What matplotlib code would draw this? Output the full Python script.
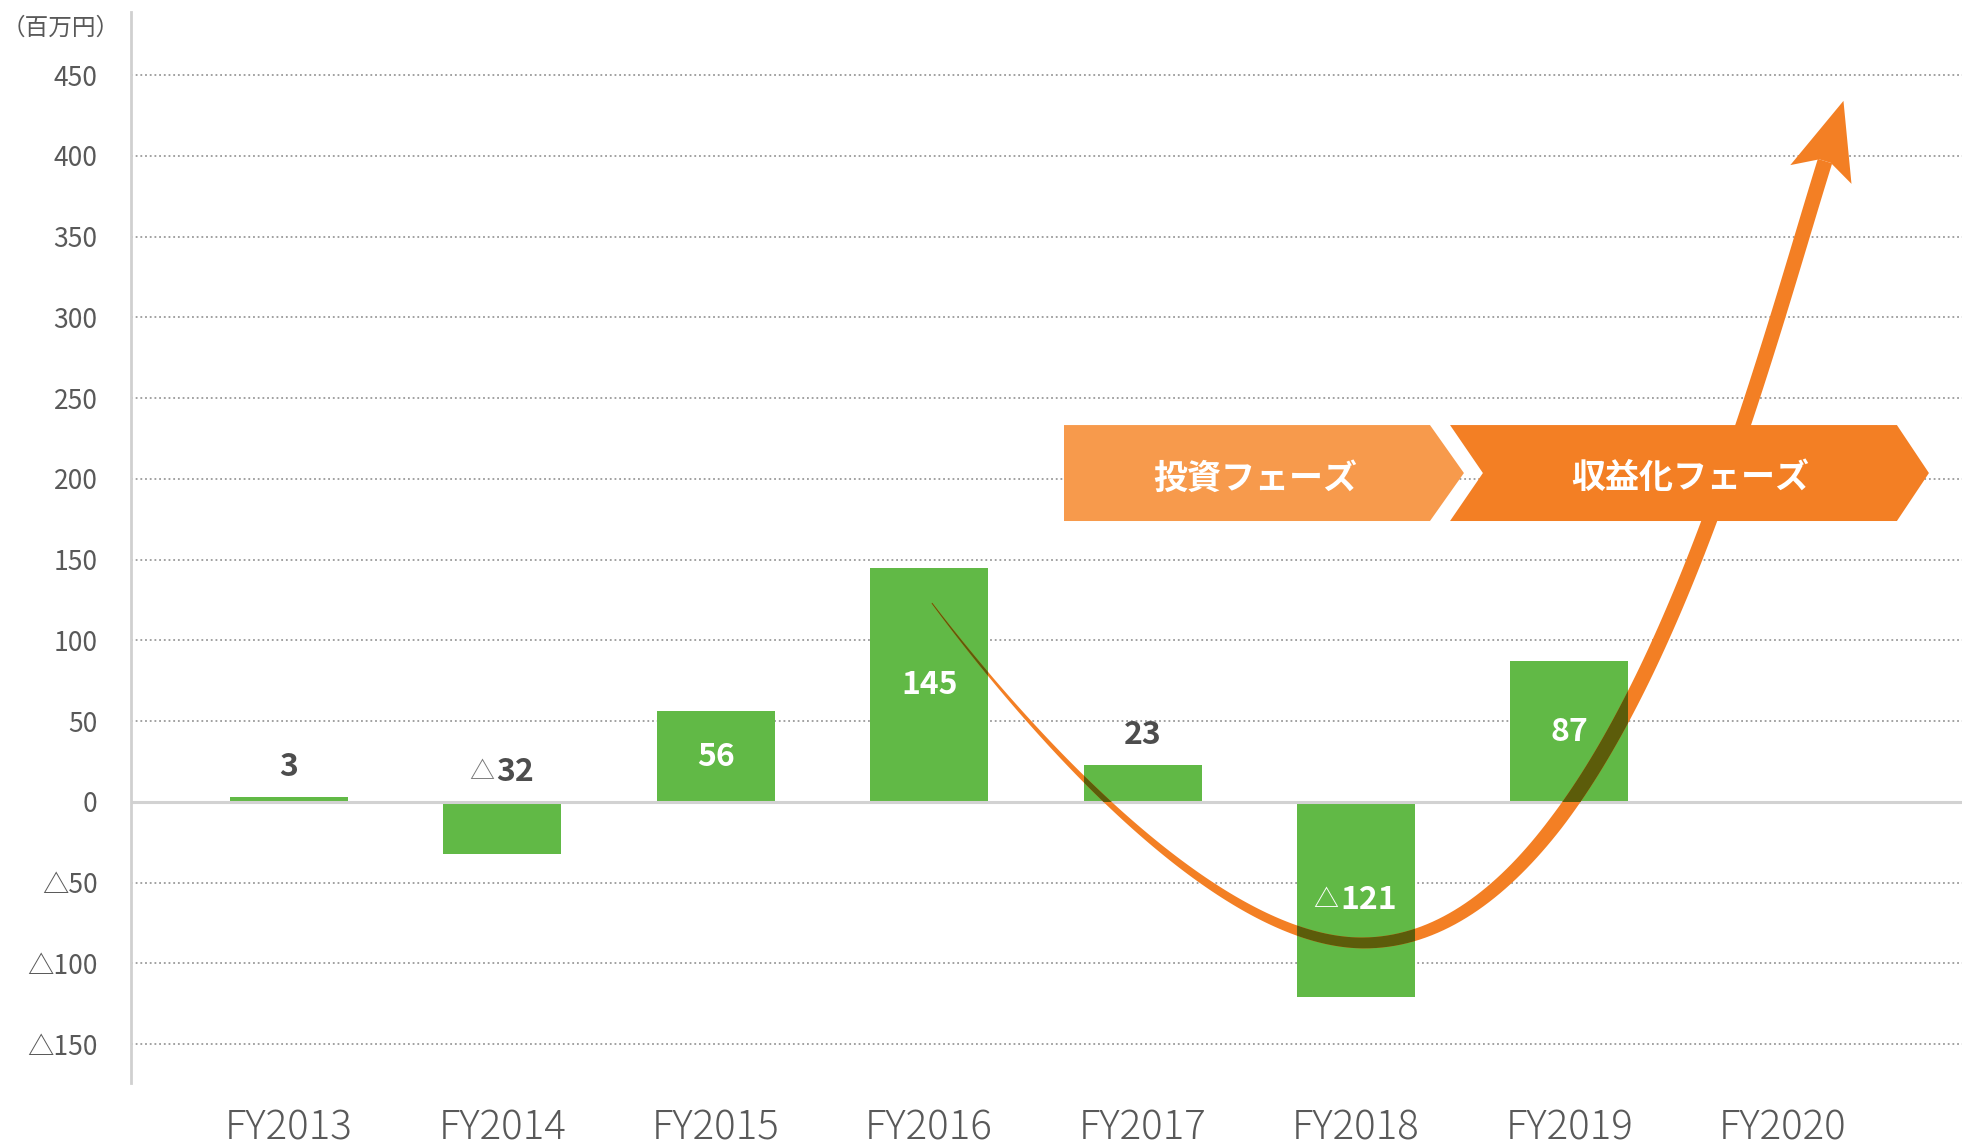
import numpy as np
import matplotlib
matplotlib.use("Agg")
import matplotlib.pyplot as plt
from matplotlib.patches import Polygon
from matplotlib import colors as mcolors

plt.rcParams['font.family'] = ['Noto Sans CJK JP', 'DejaVu Sans']

# データ
years = ['FY2013', 'FY2014', 'FY2015', 'FY2016', 'FY2017', 'FY2018', 'FY2019', 'FY2020']
profit = [3, -32, 56, 145, 23, -121, 87]
y_ticks = [-150, -100, -50, 0, 50, 100, 150, 200, 250, 300, 350, 400, 450]
unit_label = '（百万円）'
phase_labels = ['投資フェーズ', '収益化フェーズ']

# トレンド矢印のベジェ制御点（データ座標）: 下降区間と上昇区間
trend_down = [(3.013, 123.1), (3.435, 48.9), (4.330, -87.3), (5.033, -87.3)]
trend_up = [(5.033, -87.3), (6.204, -87.3), (6.850, 248.9), (7.198, 396.7)]

GREEN = '#61b946'
ORANGE = '#f37f24'
LIGHT_ORANGE = '#f79a4c'
TEXT = '#595959'

W, H = 1962, 1147
fig = plt.figure(figsize=(W / 100, H / 100), dpi=100)
ax = fig.add_axes([131 / W, 64 / H, 1 - 131 / W, (1083 - 12) / H])
ax.set_xlim(-0.74, 7.84)
ax.set_ylim(-174, 489)

# 軸
for s in ['top', 'right', 'bottom']:
    ax.spines[s].set_visible(False)
ax.spines['left'].set_color('#d0d0d0')
ax.spines['left'].set_linewidth(2)
ax.set_yticks(y_ticks)
ax.set_yticklabels([('△' + str(-t)) if t < 0 else str(t) for t in y_ticks])
ax.set_xticks(range(len(years)))
ax.set_xticklabels(years, fontweight='light', va='baseline')
ax.tick_params(axis='y', length=0, pad=24, labelsize=19, labelcolor=TEXT)
ax.tick_params(axis='x', length=0, pad=41, labelsize=29, labelcolor=TEXT)
ax.grid(axis='y', color='#9a9a9a', linestyle=(0, (1, 1.6)), linewidth=1.3)
ax.set_axisbelow(True)
ax.axhline(0, color='#d2d2d2', lw=2.2, zorder=2.5)

fig.text(2 / W, 1 - 28 / H, unit_label, fontsize=17, color=TEXT, ha='left', va='center')

# 棒
bars = ax.bar(range(len(profit)), profit, width=0.553, color=GREEN, zorder=2)

# 値ラベル
for i, v in enumerate(profit):
    inside = abs(v) >= 50
    col = 'white' if inside else '#4d4d4d'
    tri_col = 'white' if inside else '#777777'
    shift = 9 if v < 0 else 0
    if inside:
        t = ax.annotate(str(abs(v)), (i, v / 2), xytext=(shift, 0), textcoords='offset points',
                        ha='center', va='center', fontsize=23, fontweight='bold', color=col, zorder=6)
    else:
        t = ax.annotate(str(abs(v)), (i, max(v, 0)), xytext=(shift, 15), textcoords='offset points',
                        ha='center', va='baseline', fontsize=23, fontweight='bold', color=col, zorder=6)
    if v < 0:
        ax.annotate('△', (0, 0), xycoords=t, xytext=(-1, 2), textcoords='offset points',
                    ha='right', va='bottom', fontsize=18, color=tri_col, zorder=6)


# トレンド曲線（太さが増していく）
def bezier(ctrl, n=120):
    p0, p1, p2, p3 = ctrl
    t = np.linspace(0, 1, n)[:, None]
    return ((1 - t) ** 3 * p0 + 3 * (1 - t) ** 2 * t * p1
            + 3 * (1 - t) * t ** 2 * p2 + t ** 3 * p3)


c1 = bezier(ax.transData.transform(trend_down))
c2 = bezier(ax.transData.transform(trend_up))
c = np.vstack([c1, c2[1:]])
seg = np.hypot(*np.diff(c, axis=0).T)
s = np.concatenate([[0], np.cumsum(seg)])
half = (1 + 14 * np.clip(s / 800, 0, 1)) / 2
tan = np.gradient(c, axis=0)
tan /= np.hypot(tan[:, 0], tan[:, 1])[:, None]
nrm = np.column_stack([-tan[:, 1], tan[:, 0]])
outline = np.vstack([c + nrm * half[:, None], (c - nrm * half[:, None])[::-1]])
inv = ax.transData.inverted()
curve_data = inv.transform(outline)
ax.add_patch(Polygon(curve_data, closed=True, facecolor=ORANGE, edgecolor='none', zorder=3))

# 棒と重なる部分は乗算風に暗く
dark = np.array(mcolors.to_rgb(ORANGE)) * np.array(mcolors.to_rgb(GREEN))
for b in bars:
    p = Polygon(curve_data, closed=True, facecolor=dark, edgecolor='none', zorder=3.1)
    ax.add_patch(p)
    p.set_clip_path(b)

# 矢じり
E = c[-1]
u = c[-1] - c[-6]
u /= np.hypot(*u)
n = np.array([-u[1], u[0]])
head = np.array([E + 63 * u, E - 14 * u + 32 * n, E + 6 * n, E - 6 * n, E - 14 * u - 32 * n])
ax.add_patch(Polygon(inv.transform(head), closed=True, facecolor=ORANGE, edgecolor='none', zorder=3))

# フェーズ表示
top, bot, mid = 233.3, 173.9, 203.6
banner1 = [(3.632, top), (5.347, top), (5.506, mid), (5.347, bot), (3.632, bot)]
banner2 = [(5.441, top), (7.535, top), (7.685, mid), (7.535, bot), (5.441, bot), (5.595, mid)]
ax.add_patch(Polygon(banner1, closed=True, facecolor=LIGHT_ORANGE, edgecolor='none', zorder=4))
ax.add_patch(Polygon(banner2, closed=True, facecolor=ORANGE, edgecolor='none', zorder=4))
ax.text(4.527, mid - 3, phase_labels[0], ha='center', va='center', fontsize=24.5,
        fontweight='bold', color='white', zorder=5)
ax.text((5.595 + 7.535) / 2, mid - 3, phase_labels[1], ha='center', va='center', fontsize=24.5,
        fontweight='bold', color='white', zorder=5)

fig.savefig('out.png', dpi=100)
